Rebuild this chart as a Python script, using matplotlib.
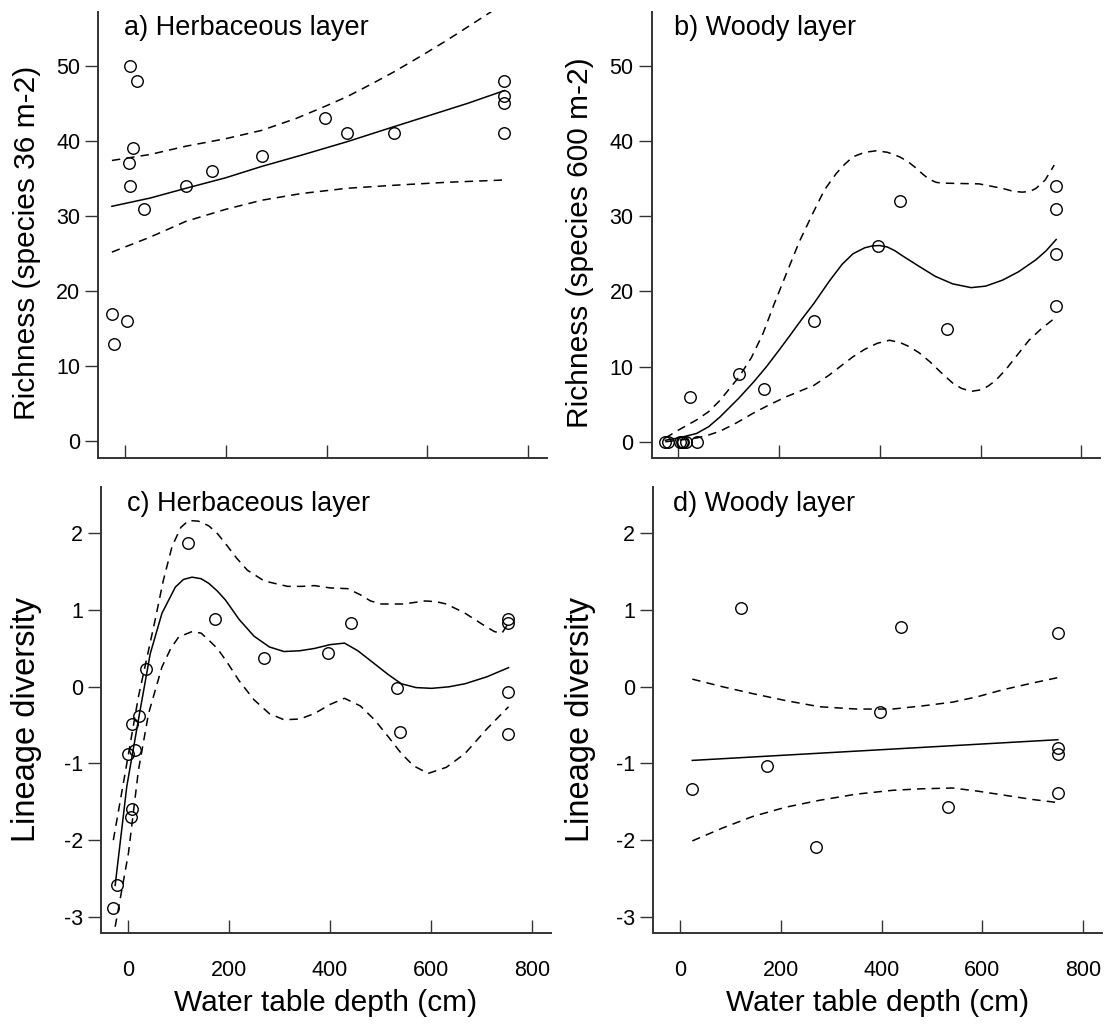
import matplotlib
matplotlib.use("Agg")
import matplotlib.pyplot as plt

plt.rcParams['font.family'] = ['Liberation Sans', 'DejaVu Sans']

W, H = 1110, 1028
DPI = 100

# ---------------- data ----------------
# Panel a: herbaceous richness
a_x = [-26, -21, 3, 10, 24, 15, 8, 10, 37, 121, 173, 271, 397, 441, 534, 753, 753, 753, 753]
a_y = [17, 13, 16, 50, 48, 39, 37, 34, 31, 34, 36, 38, 43, 41, 41, 48, 46, 45, 41]
a_fit_x = [-26, 50, 121, 200, 271, 350, 441, 520, 600, 680, 753]
a_fit_y = [31.3, 32.4, 33.7, 35.1, 36.6, 38.1, 39.9, 41.6, 43.3, 45.0, 46.7]
a_up_x = [-26, 50, 121, 200, 271, 340, 397, 441, 490, 534, 590, 639, 690, 731.6, 753]
a_up_y = [37.4, 38.2, 39.3, 40.3, 41.4, 43.0, 44.6, 45.9, 47.6, 49.2, 51.4, 53.4, 55.6, 57.4, 58.3]
a_lo_x = [-26, 50, 121, 200, 271, 350, 441, 534, 640, 753]
a_lo_y = [25.2, 27.2, 29.3, 30.9, 32.1, 33.0, 33.7, 34.1, 34.5, 34.8]

# Panel b: woody richness
b_x = [-26, -21, 3, 8, 10, 15, 37, 23, 120, 170, 269, 396, 439, 533, 750, 750, 750, 750]
b_y = [0, 0, 0, 0, 0, 0, 0, 6, 9, 7, 16, 26, 32, 15, 34, 31, 25, 18]
b_fit_x = [-26, 0, 36, 60, 82.6, 120, 150, 175, 200, 220, 245, 269, 300, 325, 346.5, 370, 385, 400,
           415, 430, 445.5, 478.6, 510, 544.6, 581, 610, 643.6, 675, 709.7, 730, 750]
b_fit_y = [0.2, 0.5, 1.1, 2.0, 3.3, 5.8, 8.0, 10.0, 12.2, 14.0, 16.3, 18.4, 21.4, 23.6, 25.0, 25.8, 26.05, 26.1,
           25.9, 25.4, 24.7, 23.3, 22.0, 21.0, 20.5, 20.7, 21.5, 22.6, 24.2, 25.4, 26.9]
b_up_x = [-26, 0, 36, 60, 82.6, 120, 145, 168, 190, 214.6, 240, 267, 290, 313.6, 330, 346.5, 370,
          392.8, 415, 439, 455, 470, 485, 498, 512, 524, 560, 597, 620, 643.6, 665, 683, 698, 710,
          728, 742.6, 746]
b_up_y = [0.5, 1.55, 2.9, 4.0, 5.5, 8.6, 11.2, 14.4, 18.3, 22.4, 26.6, 30.4, 33.5, 35.7, 36.9, 37.9, 38.5,
          38.7, 38.5, 37.9, 37.3, 36.5, 35.6, 34.9, 34.5, 34.4, 34.35, 34.3, 34.0, 33.7, 33.3, 33.2, 33.3, 33.7,
          34.8, 36.4, 36.8]
b_lo_x = [-26, 0, 36, 60, 82.6, 115, 148.5, 180, 214.6, 240, 269, 300, 325, 346.5, 370, 395, 419, 440,
          460, 478.6, 500, 520, 544.6, 562, 581, 600, 615, 630.5, 650, 670, 696, 720, 750]
b_lo_y = [0, 0.2, 0.5, 0.9, 1.4, 2.5, 3.8, 4.9, 6.0, 6.7, 7.5, 8.9, 10.2, 11.3, 12.3, 13.1, 13.5, 13.2,
          12.6, 11.8, 10.6, 9.3, 7.8, 7.1, 6.7, 6.9, 7.4, 8.2, 9.6, 11.3, 13.5, 15.0, 16.6]

# Panel c: herbaceous lineage diversity
c_x = [-28.6, -22, 1.3, 8, 14.5, 23, 8, 6.6, 36.4, 119, 171.5, 269.5, 396.6, 440.5, 533, 539, 751, 751, 751, 751]
c_y = [-2.88, -2.59, -0.88, -0.48, -0.82, -0.38, -1.59, -1.70, 0.23, 1.87, 0.88, 0.38, 0.44, 0.83, -0.01,
       -0.59, 0.89, 0.83, -0.065, -0.62]
c_fit_x = [-25, -2, 21, 44.3, 67.6, 94, 110, 127, 145, 160, 177, 193.4, 220, 249.7, 280, 309, 340, 369,
           400, 428.6, 455, 488, 515, 541, 570, 601, 635, 667, 710, 753]
c_fit_y = [-2.59, -1.30, -0.43, 0.43, 0.96, 1.30, 1.40, 1.43, 1.41, 1.35, 1.25, 1.13, 0.88, 0.66, 0.52,
           0.46, 0.47, 0.50, 0.55, 0.57, 0.47, 0.30, 0.16, 0.04, -0.01, -0.02, 0.0, 0.04, 0.13, 0.25]
c_up_x = [-28.6, -5.4, 21, 54, 70, 87.5, 105, 120.5, 140, 160, 177, 193, 215, 236.6, 270, 316, 345, 369,
          400, 435, 460, 480, 501.6, 545, 588, 610, 630, 667, 700, 725, 740, 753]
c_up_y = [-2.0, -1.13, -0.13, 0.87, 1.38, 1.83, 2.08, 2.17, 2.16, 2.10, 2.00, 1.87, 1.68, 1.52, 1.38,
          1.31, 1.31, 1.32, 1.29, 1.28, 1.20, 1.12, 1.08, 1.08, 1.12, 1.11, 1.08, 0.96, 0.82, 0.72, 0.70, 0.83]
c_lo_x = [-25, 1.3, 21, 41, 67.6, 85, 100.6, 127, 145, 160, 177, 193.4, 220, 249.7, 280, 309, 340, 369,
          400, 428.6, 460, 488, 515, 541, 565, 594, 630, 667, 710, 753]
c_lo_y = [-3.13, -2.17, -1.09, -0.35, 0.26, 0.50, 0.65, 0.72, 0.70, 0.61, 0.50, 0.35, 0.08, -0.17, -0.35,
          -0.43, -0.42, -0.35, -0.23, -0.15, -0.25, -0.43, -0.65, -0.87, -1.03, -1.13, -1.05, -0.87, -0.55, -0.26]

# Panel d: woody lineage diversity
d_x = [24.4, 120.7, 172, 270.4, 396.4, 439, 532, 750.5, 750.5, 750.5, 750.5]
d_y = [-1.33, 1.03, -1.03, -2.09, -0.33, 0.78, -1.57, 0.70, -0.80, -0.88, -1.39]
d_fit_x = [24.4, 750]
d_fit_y = [-0.96, -0.69]
d_up_x = [24.4, 85, 145, 210, 277, 350, 422, 480, 541, 590, 640, 700, 750]
d_up_y = [0.10, 0.0, -0.09, -0.18, -0.26, -0.29, -0.29, -0.25, -0.20, -0.13, -0.04, 0.05, 0.12]
d_lo_x = [24.4, 85, 145, 210, 277, 350, 422, 480, 541, 590, 640, 700, 750]
d_lo_y = [-2.01, -1.84, -1.69, -1.57, -1.48, -1.40, -1.35, -1.33, -1.32, -1.36, -1.41, -1.47, -1.51]

x_ticks = [0, 200, 400, 600, 800]
rich_ticks = [0, 10, 20, 30, 40, 50]
div_ticks = [-3, -2, -1, 0, 1, 2]
titles = ["a) Herbaceous layer", "b) Woody layer", "c) Herbaceous layer", "d) Woody layer"]
ylabels = ["Richness (species 36 m-2)", "Richness (species 600 m-2)", "Lineage diversity", "Lineage diversity"]
xlabel = "Water table depth (cm)"

# ---------------- layout (pixel boxes: left, top, right, bottom) ----------------
boxes = [(98.3, 11.7, 546.7, 458.0),
         (651.7, 11.7, 1100.0, 458.3),
         (101.0, 486.7, 551.0, 933.3),
         (653.3, 486.7, 1101.7, 933.3)]
title_pos = [(124.3, 35.0), (674.3, 35.0), (126.7, 510.7), (673.3, 510.7)]
ylabel_pos = [(27, 242.5), (580, 242.5), (27, 719), (580, 719)]
ylabel_size = [21.5, 21.5, 23.5, 23.5]

fig = plt.figure(figsize=(W / DPI, H / DPI), dpi=DPI)

panels = [
    (a_x, a_y, a_fit_x, a_fit_y, a_up_x, a_up_y, a_lo_x, a_lo_y, rich_ticks, (-2.2, 57.2)),
    (b_x, b_y, b_fit_x, b_fit_y, b_up_x, b_up_y, b_lo_x, b_lo_y, rich_ticks, (-2.2, 57.2)),
    (c_x, c_y, c_fit_x, c_fit_y, c_up_x, c_up_y, c_lo_x, c_lo_y, div_ticks, (-3.215, 2.61)),
    (d_x, d_y, d_fit_x, d_fit_y, d_up_x, d_up_y, d_lo_x, d_lo_y, div_ticks, (-3.215, 2.61)),
]

spine_col = "#333333"
for i, (px, py, fx, fy, ux, uy, lx, ly, yt, ylim) in enumerate(panels):
    l, t, r, b = boxes[i]
    ax = fig.add_axes([l / W, 1 - b / H, (r - l) / W, (b - t) / H])
    ax.plot(fx, fy, color="black", lw=1.1, solid_joinstyle="round")
    ax.plot(ux, uy, color="black", lw=1.1, dashes=(5.5, 4), dash_joinstyle="round")
    ax.plot(lx, ly, color="black", lw=1.1, dashes=(5.5, 4), dash_joinstyle="round")
    ax.plot(px, py, linestyle="none", marker="o", markersize=8.3, markerfacecolor="none",
            markeredgecolor="black", markeredgewidth=1.0, clip_on=False)
    ax.set_xlim(-53, 837)
    ax.set_ylim(*ylim)
    ax.set_xticks(x_ticks)
    ax.set_yticks(yt)
    for s in ["top", "right"]:
        ax.spines[s].set_visible(False)
    for s in ["left", "bottom"]:
        ax.spines[s].set_linewidth(1.4)
        ax.spines[s].set_color(spine_col)
    ax.tick_params(axis="y", direction="out", length=9.5, width=1.0, color=spine_col,
                   labelsize=15.5, pad=3.5)
    ax.tick_params(axis="x", direction="in", length=9.5, width=1.0, color=spine_col,
                   labelsize=15.5, pad=19)
    ax.set_yticklabels([str(v) for v in yt])
    if i < 2:
        ax.set_xticklabels([])
    else:
        ax.set_xticklabels([str(v) for v in x_ticks])
        ax.set_xlabel(xlabel, fontsize=21.5, labelpad=6)
    lx_, ly_ = ylabel_pos[i]
    fig.text(lx_ / W, 1 - ly_ / H, ylabels[i], fontsize=ylabel_size[i], rotation=90,
             ha="center", va="center")
    tx, ty = title_pos[i]
    fig.text(tx / W, 1 - ty / H, titles[i], fontsize=19.5, ha="left", va="baseline")

fig.savefig("out.png", dpi=DPI)
